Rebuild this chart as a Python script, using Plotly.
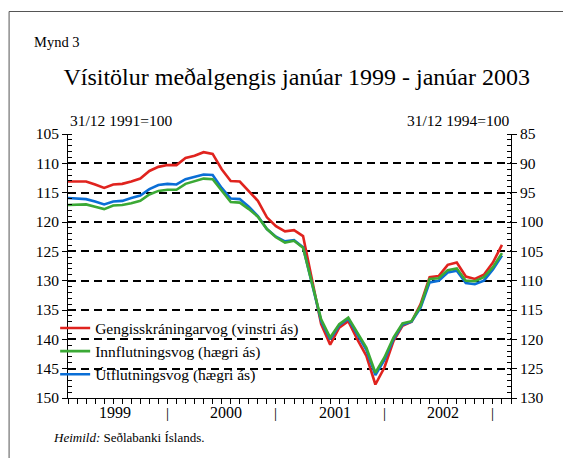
import plotly.graph_objects as go

# Monthly values, Jan 1999 - Jan 2003
gengi = [113.1,113.1,113.1,113.6,114.2,113.6,113.5,113.1,112.6,111.3,
         110.6,110.3,110.3,109.1,108.7,108.1,108.4,111.0,113.0,113.1,
         114.8,116.4,119.2,120.7,121.6,121.4,122.4,130.0,137.4,140.9,
         138.0,136.9,140.0,142.8,147.7,144.8,140.3,137.7,137.0,134.0,
         129.4,129.2,127.3,126.9,129.3,129.7,129.0,126.9,123.9]
innflutn = [97.1,97.0,97.0,97.4,97.8,97.2,97.1,96.8,96.4,95.3,
            94.7,94.5,94.5,93.5,93.1,92.6,92.7,94.7,96.6,96.7,
            97.8,99.1,101.2,102.6,103.5,103.2,104.4,110.5,116.6,119.7,
            117.4,116.3,118.9,121.4,125.7,123.1,119.7,117.3,116.9,114.3,
            109.7,109.6,108.2,107.9,110.0,110.1,109.4,107.7,105.3]
utflutn = [95.9,96.0,96.1,96.5,97.0,96.5,96.4,95.9,95.5,94.4,
           93.7,93.5,93.6,92.7,92.3,91.9,92.0,94.2,96.0,96.1,
           97.4,99.0,101.2,102.5,103.3,103.1,104.3,110.6,116.9,120.0,
           117.6,116.5,119.2,121.8,126.1,123.5,120.0,117.5,117.0,114.6,
           110.3,110.0,108.6,108.3,110.4,110.6,110.0,108.1,105.7]
months = list(range(len(gengi)))

year_labels = ["1999", "2000", "2001", "2002"]
year_label_pos = [5.25, 17.5, 29.5, 41.5]
separator_pos = [11, 23, 35, 47]

names = ["Gengisskráningarvog (vinstri ás)", "Innflutningsvog (hægri ás)", "Útflutningsvog (hægri ás)"]
colors = ["#E0231E", "#3BA935", "#0A6ED6"]

FONT = "Liberation Serif, Times New Roman, serif"

fig = go.Figure()
fig.add_trace(go.Scatter(x=months, y=utflutn, name=names[2], yaxis="y2", mode="lines",
                         line=dict(color=colors[2], width=2.6), legendrank=3, legendgroup="c"))
fig.add_trace(go.Scatter(x=months, y=innflutn, name=names[1], yaxis="y2", mode="lines",
                         line=dict(color=colors[1], width=2.6), legendrank=2, legendgroup="b"))
fig.add_trace(go.Scatter(x=months, y=gengi, name=names[0], yaxis="y", mode="lines",
                         line=dict(color=colors[0], width=2.6), legendrank=1, legendgroup="a"))

ann = []
for lab, p in zip(year_labels, year_label_pos):
    ann.append(dict(x=p, y=-0.055, xref="x", yref="paper", text=lab, showarrow=False,
                    xanchor="center", yanchor="middle", font=dict(family=FONT, size=16, color="black")))
for p in separator_pos:
    ann.append(dict(x=p, y=-0.055, xref="x", yref="paper", text="|", showarrow=False,
                    xanchor="center", yanchor="middle", font=dict(family=FONT, size=15, color="black")))
ann += [
    dict(x=0, y=1.053, xref="paper", yref="paper", text="31/12 1991=100", showarrow=False,
         xanchor="left", yanchor="middle", font=dict(family=FONT, size=15.5, color="black")),
    dict(x=1, y=1.053, xref="paper", yref="paper", text="31/12 1994=100", showarrow=False,
         xanchor="right", yanchor="middle", font=dict(family=FONT, size=15.5, color="black")),
    dict(x=-0.081, y=1.348, xref="paper", yref="paper", text="Mynd 3", showarrow=False,
         xanchor="left", yanchor="middle", font=dict(family=FONT, size=14.5, color="black")),
    dict(x=-0.038, y=-0.148, xref="paper", yref="paper", text="<i>Heimild:</i> Seðlabanki Íslands.",
         showarrow=False, xanchor="left", yanchor="middle", font=dict(family=FONT, size=13, color="black")),
]

fig.update_layout(
    width=563, height=458,
    margin=dict(l=68, r=52, t=134, b=60),
    paper_bgcolor="white", plot_bgcolor="white",
    font=dict(family=FONT, size=15, color="black"),
    title=dict(text="Vísitölur meðalgengis janúar 1999 - janúar 2003", xref="container", x=0.527,
               xanchor="center", y=1 - 77 / 458, yanchor="middle",
               font=dict(family=FONT, size=24, color="black")),
    xaxis=dict(range=[0, 49], tickmode="linear", tick0=0, dtick=1, ticks="outside", ticklen=5,
               tickcolor="black", showticklabels=False, showgrid=False, zeroline=False,
               showline=True, linecolor="black", linewidth=1),
    yaxis=dict(range=[150, 105], tickmode="linear", tick0=105, dtick=5, ticks="outside", ticklen=5,
               tickcolor="black", showline=True, linecolor="black", linewidth=1, zeroline=False,
               showgrid=True, gridcolor="black", gridwidth=1.5, griddash="8px,5px",
               tickfont=dict(family=FONT, size=15.5, color="black"),
               minor=dict(tick0=105, dtick=1, ticks="inside", ticklen=4, tickcolor="black", showgrid=False)),
    yaxis2=dict(range=[130, 85], overlaying="y", side="right", tickmode="linear", tick0=85, dtick=5,
                ticks="outside", ticklen=5, tickcolor="black", showline=True, linecolor="black",
                linewidth=1, zeroline=False, showgrid=False,
                tickfont=dict(family=FONT, size=15.5, color="black"),
                minor=dict(tick0=85, dtick=1, ticks="inside", ticklen=4, tickcolor="black", showgrid=False)),
    legend=dict(x=-0.029, y=0.328, xanchor="left", yanchor="top", bgcolor="rgba(0,0,0,0)",
                font=dict(family=FONT, size=15.5, color="black"), tracegroupgap=0, borderwidth=0),
    showlegend=True,
    annotations=ann,
    shapes=[
        dict(type="line", xref="paper", yref="paper", x0=-0.133, x1=1.2, y0=1.464, y1=1.464,
             line=dict(color="#555555", width=1)),
        dict(type="line", xref="paper", yref="paper", x0=-0.133, x1=-0.133, y0=1.464, y1=-0.3,
             line=dict(color="#555555", width=1)),
    ],
)

fig.write_html("out.html", config={"displayModeBar": False},
               post_script="document.body.style.margin='0';")
